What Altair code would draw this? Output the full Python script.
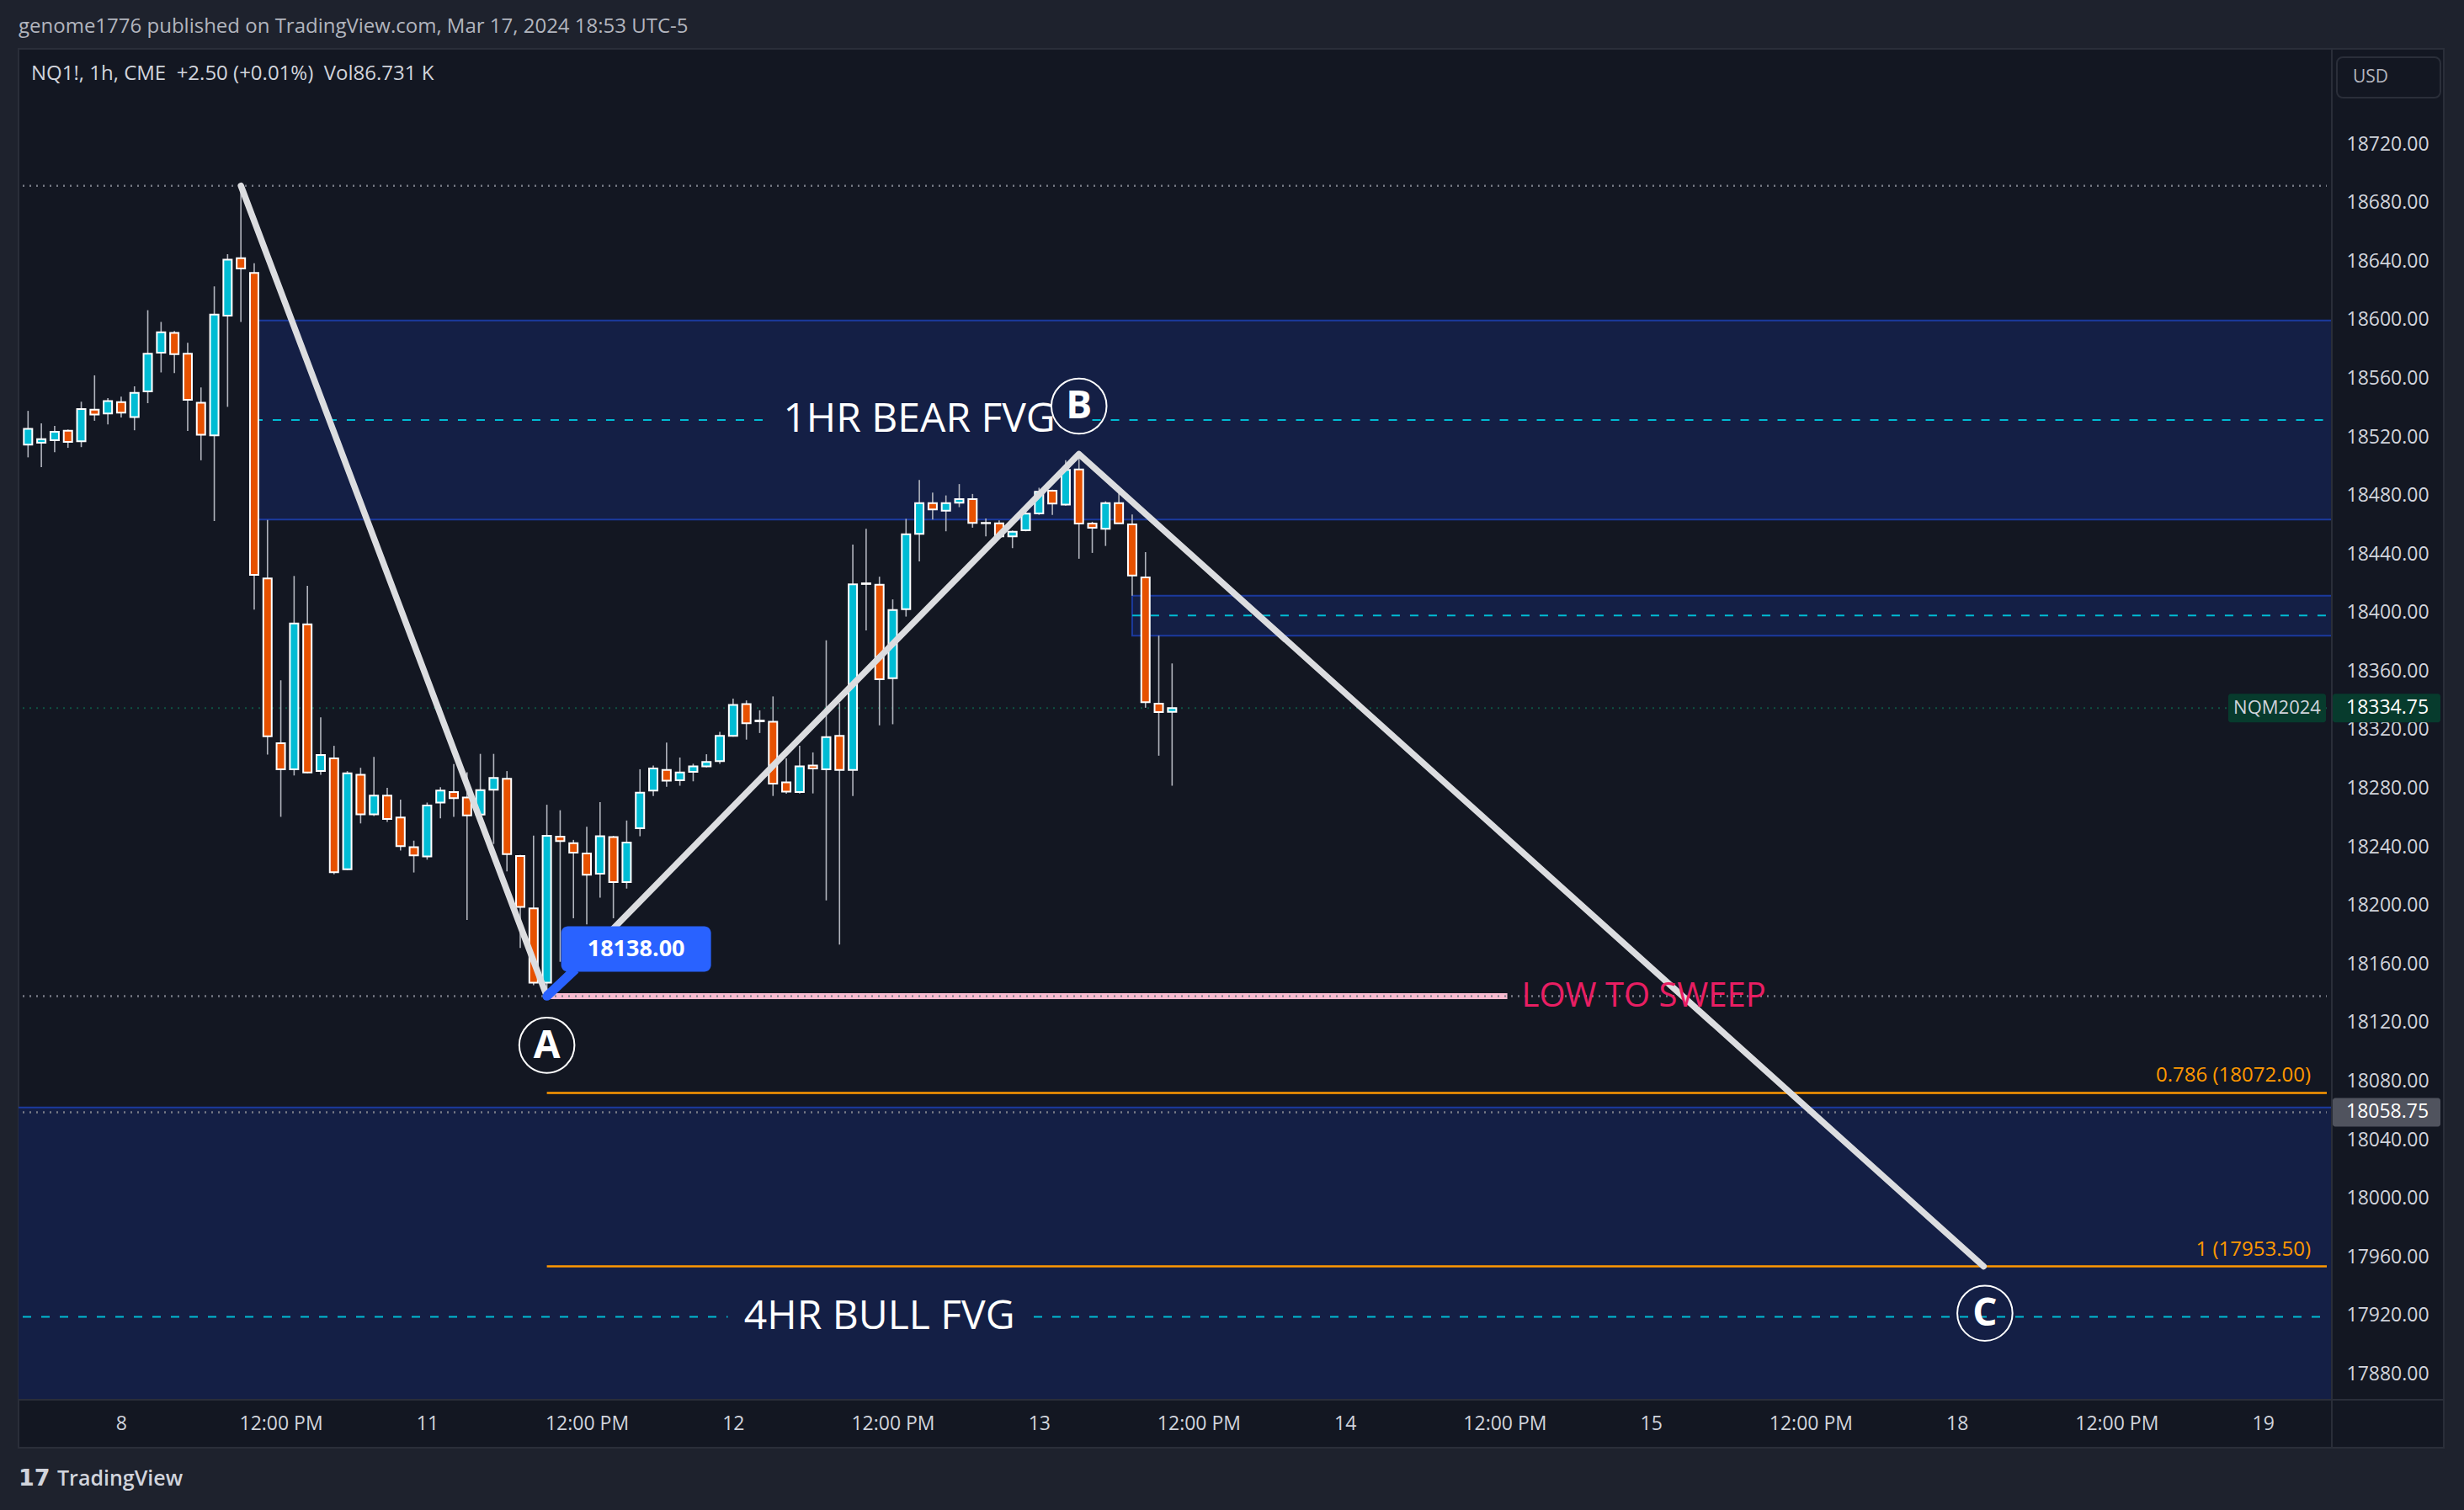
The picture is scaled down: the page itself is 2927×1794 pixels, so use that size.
import json
import altair as alt
import pandas as pd

# ------------------------------------------------------------------ data
bar_t = list(range(-7, 80))  # hourly bar index, 0 = Mar 8 00:00
opens = [
    18514.75, 18516.0, 18517.75, 18524.25, 18517.0, 18538.5, 18536.0, 18543.75, 18533.5, 18551.0,
    18577.5, 18591.0, 18576.75, 18543.25, 18521.0, 18602.75, 18642.0, 18632.0, 18423.25, 18310.75,
    18293.0, 18392.0, 18291.75, 18300.5, 18224.75, 18289.25, 18262.25, 18275.0, 18260.0, 18239.75,
    18233.5, 18270.25, 18277.5, 18273.75, 18262.0, 18279.0, 18286.5, 18233.75, 18198.0, 18147.25,
    18247.0, 18242.5, 18235.5, 18221.75, 18246.75, 18216.0, 18252.75, 18278.5, 18292.5, 18285.5,
    18291.25, 18295.0, 18298.5, 18315.75, 18337.5, 18325.75, 18325.5, 18284.0, 18277.5, 18295.5,
    18293.0, 18315.75, 18292.5, 18419.5, 18419.0, 18355.25, 18402.25, 18453.75, 18474.75, 18469.5,
    18475.0, 18477.5, 18461.0, 18461.0, 18452.0, 18456.25, 18467.75, 18483.25, 18473.75, 18497.75,
    18460.75, 18457.25, 18474.75, 18460.25, 18424.0, 18337.75, 18332.25]
highs = [
    18537.75, 18529.25, 18527.5, 18525.0, 18544.0, 18562.0, 18546.5, 18547.5, 18554.5, 18606.5,
    18598.5, 18592.25, 18584.25, 18553.75, 18622.75, 18644.75, 18691.5, 18638.5, 18463.25, 18353.75,
    18425.0, 18418.25, 18328.5, 18309.0, 18291.75, 18294.0, 18301.5, 18280.25, 18272.25, 18244.25,
    18270.25, 18280.75, 18296.5, 18291.0, 18303.5, 18303.5, 18291.75, 18234.5, 18247.75, 18268.75,
    18265.0, 18244.75, 18253.75, 18270.5, 18247.5, 18258.0, 18293.0, 18295.5, 18311.25, 18301.0,
    18296.75, 18303.25, 18318.5, 18341.25, 18340.0, 18333.25, 18342.75, 18300.5, 18309.0, 18304.5,
    18381.0, 18338.25, 18446.5, 18457.25, 18424.5, 18409.0, 18464.0, 18490.5, 18482.0, 18480.0,
    18487.75, 18481.0, 18464.25, 18463.0, 18456.0, 18469.75, 18485.25, 18484.0, 18504.0, 18508.25,
    18462.0, 18476.0, 18486.0, 18467.0, 18441.25, 18384.25, 18365.25]
lows = [
    18506.0, 18499.25, 18509.5, 18512.5, 18513.0, 18531.0, 18528.5, 18533.25, 18524.5, 18543.0,
    18564.0, 18563.5, 18524.0, 18504.0, 18462.5, 18540.5, 18598.5, 18402.0, 18303.0, 18260.5,
    18288.75, 18290.25, 18289.25, 18221.25, 18224.25, 18256.0, 18261.0, 18257.0, 18237.5, 18222.5,
    18231.25, 18259.5, 18260.5, 18190.0, 18261.0, 18242.0, 18223.25, 18171.0, 18145.5, 18138.0,
    18161.5, 18191.25, 18187.0, 18205.25, 18191.25, 18211.5, 18247.25, 18274.75, 18281.0, 18281.75,
    18284.75, 18294.25, 18296.75, 18315.25, 18313.25, 18317.75, 18274.75, 18276.25, 18276.5, 18276.5,
    18203.5, 18173.25, 18274.75, 18387.75, 18323.0, 18323.75, 18397.25, 18435.0, 18463.5, 18455.5,
    18472.0, 18458.0, 18452.0, 18451.75, 18444.0, 18455.5, 18466.75, 18466.75, 18473.0, 18436.75,
    18440.75, 18445.5, 18461.0, 18411.5, 18335.0, 18302.25, 18281.75]
closes = [
    18525.5, 18518.5, 18523.5, 18516.5, 18539.0, 18535.25, 18544.5, 18536.5, 18550.0, 18576.75,
    18591.5, 18576.5, 18545.25, 18521.5, 18603.5, 18641.0, 18635.0, 18425.75, 18315.5, 18293.0,
    18392.5, 18290.75, 18302.75, 18222.75, 18290.25, 18262.25, 18275.0, 18259.0, 18240.5, 18234.25,
    18268.25, 18278.5, 18273.25, 18261.5, 18278.75, 18287.0, 18235.0, 18199.0, 18147.25, 18247.5,
    18244.0, 18236.0, 18221.0, 18247.25, 18216.0, 18243.0, 18277.0, 18293.5, 18285.25, 18290.75,
    18295.0, 18298.0, 18315.75, 18337.0, 18324.5, 18326.25, 18283.25, 18277.75, 18295.0, 18293.5,
    18315.0, 18292.5, 18419.25, 18420.0, 18354.5, 18401.75, 18453.5, 18474.75, 18470.5, 18474.75,
    18477.5, 18461.25, 18461.25, 18452.0, 18455.25, 18467.5, 18482.5, 18474.5, 18497.5, 18460.75,
    18458.0, 18474.75, 18461.0, 18425.25, 18338.75, 18332.0, 18334.75]

price_ticks = list(range(17880, 18721, 40))
time_tick_pos = [0, 12, 23, 35, 46, 58, 69, 81, 92, 104, 115, 127, 138, 150, 161]
time_tick_labels = ["8", "12:00 PM", "11", "12:00 PM", "12", "12:00 PM", "13", "12:00 PM",
                    "14", "12:00 PM", "15", "12:00 PM", "18", "12:00 PM", "19"]

# zones (start bar, top, bottom, midline); boxes run past the right edge of the pane
zone_names = ["1HR BEAR FVG", "small FVG", "4HR BULL FVG"]
zone_start = [10, 76, -9.0]
zone_top = [18599.5, 18411.5, 18062.0]
zone_bottom = [18463.5, 18384.25, 17776.0]
zone_mid = [18531.5, 18398.0, 17919.0]

# dashed midline segments (start bar, end bar, price)
mid_seg_x = [10, 73.0, 76, -7.4, 68.6]
mid_seg_x2 = [48.9, 165.8, 165.8, 45.6, 165.8]
mid_seg_y = [18531.5, 18531.5, 18398.0, 17919.0, 17919.0]

# ABC swing drawing
abc_t = [9, 32, 72, 140]
abc_price = [18691.5, 18138.0, 18508.25, 17953.5]
letter_names = ["A", "B", "C"]
letter_t = [32, 72, 140.1]
letter_price = [18104.5, 18541.0, 17921.5]

fib_levels = ["0.786", "1"]
fib_prices = [18072.00, 17953.50]
fib_start = 32

swing_high = 18691.5
low_sweep = 18138.0
sweep_end = 104.2
last_price = 18334.75
ray_price = 18058.75

# ------------------------------------------------------------------ layout
W, H = 2747, 1604
XMIN, XMAX = -7.4, 165.8
YMIN, YMAX = 17863.0, 18785.0
FONT = "Open Sans"
TXT = "#d1d4dc"
OUTER = "#1e222d"
PANE = "#131722"
NB = "\u00a0"

xscale = alt.Scale(domain=[XMIN, XMAX], nice=False, zero=False)
yscale = alt.Scale(domain=[YMIN, YMAX], nice=False, zero=False)

label_expr = "{}[indexof({}, datum.value)]".format(json.dumps(time_tick_labels), json.dumps(time_tick_pos))
x_axis = alt.Axis(values=time_tick_pos, labelExpr=label_expr, orient="bottom", domain=False,
                  ticks=False, tickSize=0, grid=False, labelColor=TXT, labelFont=FONT,
                  labelFontSize=23, labelPadding=29, labelBaseline="middle", labelAlign="center",
                  labelFlush=False, labelOverlap=False, title=None)
y_axis = alt.Axis(values=price_ticks, format=".2f", orient="right", domain=False, ticks=False,
                  tickSize=0, grid=False, labelColor=TXT, labelFont=FONT, labelFontSize=23,
                  labelPadding=18, labelAlign="left", labelBaseline="middle", labelFlush=False,
                  labelOverlap=False, title=None)


def X(f):
    return alt.X(f, type="quantitative", scale=xscale, axis=x_axis)


def Y(f):
    return alt.Y(f, type="quantitative", scale=yscale, axis=y_axis)


one = pd.DataFrame({"k": [0]})

candles = pd.DataFrame({"t": bar_t, "o": opens, "h": highs, "l": lows, "c": closes})
candles["lo"] = candles[["o", "c"]].min(axis=1)
candles["hi"] = candles[["o", "c"]].max(axis=1)
candles["dir"] = ["up" if c >= o else "down" for o, c in zip(opens, closes)]

zones = pd.DataFrame({"name": zone_names, "x": zone_start, "x2": [XMAX + 1.5] * 3,
                      "top": zone_top, "bottom": zone_bottom})
mids = pd.DataFrame({"x": mid_seg_x, "x2": mid_seg_x2, "y": mid_seg_y})
gray_lines = pd.DataFrame({"x": [XMIN] * 3, "x2": [XMAX] * 3, "y": [swing_high, low_sweep, ray_price]})
green_line = pd.DataFrame({"x": [XMIN], "x2": [XMAX], "y": [last_price]})
fibs = pd.DataFrame({"x": [fib_start] * 2, "x2": [XMAX] * 2, "y": fib_prices,
                     "label": ["{} ({:.2f})".format(l, p) for l, p in zip(fib_levels, fib_prices)]})
sweep = pd.DataFrame({"x": [abc_t[1]], "x2": [sweep_end], "y": [low_sweep], "label": ["LOW TO SWEEP"]})
abc = pd.DataFrame({"t": abc_t, "p": abc_price})
letters = pd.DataFrame({"t": letter_t, "p": letter_price, "label": letter_names})
fvg_titles = pd.DataFrame({"t": [60.0, 57.0], "p": [zone_mid[0], zone_mid[2]],
                           "label": [zone_names[0], zone_names[2]]})
anchor = pd.DataFrame({"t": [abc_t[1]], "p": [abc_price[1]], "label": ["{:.2f}".format(abc_price[1])]})
lastp = pd.DataFrame({"p": [last_price], "label": ["{:.2f}".format(last_price)], "sym": ["NQM2024"]})
rayp = pd.DataFrame({"p": [ray_price], "label": ["{:.2f}".format(ray_price)]})

# ------------------------------------------------------------------ layers
def prect(x, x2, y, y2, **kw):
    return alt.Chart(one).mark_rect(**kw).encode(
        x=alt.value(x), x2=alt.value(x2), y=alt.value(y), y2=alt.value(y2))


def ptext(x, y, text, **kw):
    return alt.Chart(one).mark_text(**kw).encode(x=alt.value(x), y=alt.value(y), text=alt.value(text))


# outer (lighter) frame around the dark chart pane, then separators
panels = [
    prect(-22, W + 158, -58, 0, fill=OUTER),
    prect(-22, 0, -58, H + 132, fill=OUTER),
    prect(W + 134, W + 158, -58, H + 132, fill=OUTER),
    prect(-22, W + 158, H + 58, H + 132, fill=OUTER),
    prect(0, W + 134, 0, H + 58, fill="transparent", stroke="#2a2e39", strokeWidth=2),
    prect(W, W + 2, 0, H + 58, fill="#2a2e39"),
    prect(0, W + 134, H, H + 2, fill="#2a2e39"),
]

zone_layer = alt.Chart(zones).mark_rect(fill="#141f45", stroke="#1b3a9e", strokeWidth=2, clip=True).encode(
    x=X("x"), x2="x2", y=Y("top"), y2="bottom")

gray_layer = alt.Chart(gray_lines).mark_rule(color="#787b86", strokeWidth=2, strokeDash=[2, 6]).encode(
    x=X("x"), x2="x2", y=Y("y"))
green_layer = alt.Chart(green_line).mark_rule(color="#0f5443", strokeWidth=2, strokeDash=[2, 6]).encode(
    x=X("x"), x2="x2", y=Y("y"))
mid_layer = alt.Chart(mids).mark_rule(color="#00bcd4", strokeWidth=2, strokeDash=[10, 12]).encode(
    x=X("x"), x2="x2", y=Y("y"))
fib_layer = alt.Chart(fibs).mark_rule(color="#ff9800", strokeWidth=2.5).encode(
    x=X("x"), x2="x2", y=Y("y"))
fib_text = alt.Chart(fibs).mark_text(align="right", baseline="middle", dx=-19, dy=-20, font=FONT,
                                     fontSize=24, color="#ff9800").encode(
    x=X("x2"), y=Y("y"), text="label:N")
pink_layer = alt.Chart(sweep).mark_rule(color="#f8bbd0", strokeWidth=7).encode(
    x=X("x"), x2="x2", y=Y("y"))
gray_over = alt.Chart(gray_lines).mark_rule(color="#787b86", strokeWidth=2, strokeDash=[2, 6]).encode(
    x=X("x"), x2="x2", y=Y("y"))
sweep_text = alt.Chart(sweep).mark_text(align="left", baseline="middle", dx=17, font=FONT,
                                        fontSize=40, color="#e91e63").encode(
    x=X("x2"), y=Y("y"), text="label:N")

wicks = alt.Chart(candles).mark_rule(color="#b2b5be", strokeWidth=1.6).encode(
    x=X("t"), y=Y("l"), y2="h")
bodies = alt.Chart(candles).mark_bar(size=10, stroke="white", strokeWidth=2).encode(
    x=X("t"), y=Y("lo"), y2="hi",
    color=alt.Color("dir:N", scale=alt.Scale(domain=["up", "down"], range=["#00bcd4", "#e65100"]),
                    legend=None))

abc_layer = alt.Chart(abc).mark_line(color="#dcdde0", strokeWidth=7.5, strokeCap="round",
                                     strokeJoin="round").encode(x=X("t"), y=Y("p"))

circles = alt.Chart(letters).mark_point(shape="circle", size=4300, filled=False, color="white",
                                        strokeWidth=2, opacity=1).encode(x=X("t"), y=Y("p"))
letter_text = alt.Chart(letters).mark_text(font=FONT, fontSize=46, fontWeight="bold", color="white",
                                           baseline="middle", align="center", dy=1).encode(
    x=X("t"), y=Y("p"), text="label:N")
fvg_text = alt.Chart(fvg_titles).mark_text(font=FONT, fontSize=48, color="white", baseline="middle",
                                           align="center").encode(x=X("t"), y=Y("p"), text="label:N")

callout_box = alt.Chart(anchor).mark_rect(color="#2962ff", cornerRadius=8, xOffset=17, x2Offset=195,
                                          yOffset=-83, y2Offset=-29).encode(
    x=X("t"), x2="t", y=Y("p"), y2="p")
callout_ptr = alt.Chart(anchor).mark_rule(color="#2962ff", strokeWidth=11, x2Offset=34,
                                          y2Offset=-32).encode(x=X("t"), x2="t", y=Y("p"), y2="p")
callout_dot = alt.Chart(anchor).mark_point(shape="circle", size=110, filled=True, color="#2962ff",
                                           opacity=1).encode(x=X("t"), y=Y("p"))
callout_text = alt.Chart(anchor).mark_text(font=FONT, fontSize=27, fontWeight="bold", color="white",
                                           align="center", baseline="middle", dx=106, dy=-56).encode(
    x=X("t"), y=Y("p"), text="label:N")

sym_box = alt.Chart(lastp).mark_rect(color="#073b2d", yOffset=-17, y2Offset=17, cornerRadius=3).encode(
    x=alt.value(W - 122), x2=alt.value(W - 6), y=Y("p"), y2="p")
sym_text = alt.Chart(lastp).mark_text(font=FONT, fontSize=22, color=TXT, align="center",
                                      baseline="middle").encode(x=alt.value(W - 64), y=Y("p"), text="sym:N")
lp_box = alt.Chart(lastp).mark_rect(color="#073b2d", yOffset=-17, y2Offset=17, cornerRadius=3).encode(
    x=alt.value(W + 2), x2=alt.value(W + 130), y=Y("p"), y2="p")
lp_text = alt.Chart(lastp).mark_text(font=FONT, fontSize=23, color="white", align="left",
                                     baseline="middle").encode(
    x=alt.value(W + 18), y=Y("p"), text="label:N")
ray_box = alt.Chart(rayp).mark_rect(color="#50535e", yOffset=-17, y2Offset=17, cornerRadius=3).encode(
    x=alt.value(W + 2), x2=alt.value(W + 130), y=Y("p"), y2="p")
ray_text = alt.Chart(rayp).mark_text(font=FONT, fontSize=23, color="white", align="left",
                                     baseline="middle").encode(
    x=alt.value(W + 18), y=Y("p"), text="label:N")

usd_box = prect(W + 7, W + 130, 10, 58, fill=PANE, stroke="#2a2e39", strokeWidth=2, cornerRadius=7)
usd_text = ptext(W + 26, 34, "USD", font=FONT, fontSize=21, color="#b2b5be", align="left", baseline="middle")

header = ptext(0, -26, "genome1776 published on TradingView.com, Mar 17, 2024 18:53 UTC-5",
               font=FONT, fontSize=24, color="#b2b5be", align="left", baseline="middle")
legend_txt = ptext(15, 30, "NQ1!, 1h, CME" + NB * 2 + "+2.50 (+0.01%)" + NB * 2 + "Vol86.731 K",
                   font=FONT, fontSize=24, color=TXT, align="left", baseline="middle")
logo = ptext(0, H + 95, "17", font="DejaVu Sans", fontSize=27, fontWeight="bold", color=TXT,
             align="left", baseline="middle")
footer = ptext(46, H + 95, "TradingView", font=FONT, fontSize=25, fontWeight=600, color=TXT,
               align="left", baseline="middle")

chart = alt.layer(
    *panels,
    zone_layer, gray_layer, green_layer, mid_layer, fib_layer, fib_text, pink_layer, gray_over,
    wicks, bodies, abc_layer, sweep_text, circles, letter_text, fvg_text,
    callout_ptr, callout_box, callout_dot, callout_text,
    sym_box, sym_text, lp_box, lp_text, ray_box, ray_text, usd_box, usd_text,
    header, legend_txt, logo, footer,
).properties(
    width=W, height=H, background=PANE,
    autosize=alt.AutoSizeParams(type="none"),
    padding={"left": 22, "top": 58, "right": 158, "bottom": 132},
).configure_view(fill=PANE, strokeWidth=0)

chart.save("out.html", embed_options={"renderer": "svg", "actions": False})
